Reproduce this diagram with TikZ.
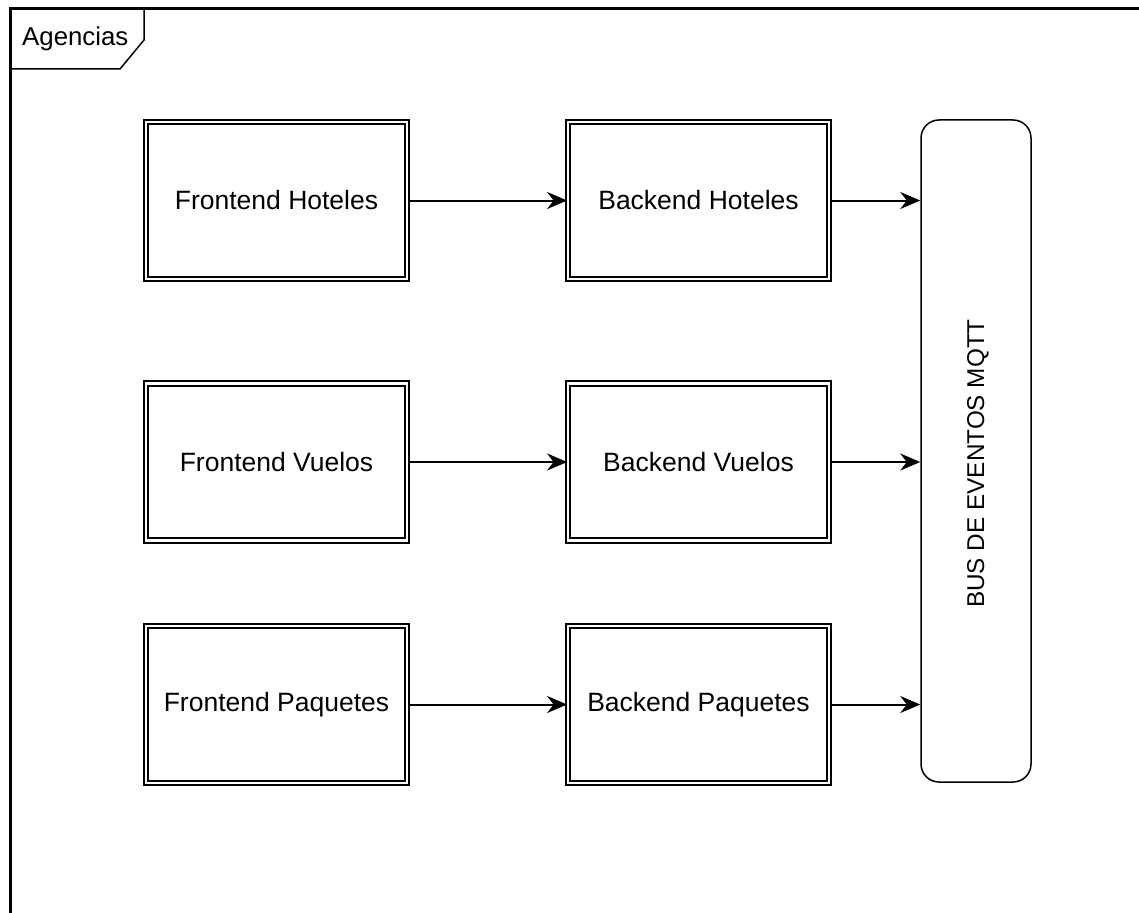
\documentclass[tikz,border=0pt]{standalone}
\usepackage{fontspec}
\setmainfont{Liberation Sans}
\usetikzlibrary{arrows.meta,positioning}

\tikzset{
  comp/.style={draw, double, double distance=2.5pt, line width=1.8pt,
    minimum width=261pt, minimum height=157pt,
    font=\fontsize{26.5}{30}\selectfont},
  busbox/.style={draw, rounded corners=18pt, line width=1.5pt,
    minimum width=110pt, minimum height=662pt},
  flow/.style={-{Stealth[length=20pt,width=17pt]}, line width=2pt}
}

\begin{document}
\begin{tikzpicture}[x=1pt,y=-1pt]
  \useasboundingbox (0,0) rectangle (1139,912);
  % marco
  \draw[line width=3pt](10,940)--(10,9)--(1160,9);
  \draw[line width=1.5pt](10,69)--(120,69)--(144,40)--(144,9);
  \node[anchor=base west, inner sep=0pt, font=\fontsize{25.8}{30}\selectfont] (tab) at (22,46) {Agencias};

  \node[comp] (fh) at (276.5,200.5) {Frontend Hoteles};
  \node[comp] (fv) at (276.5,462) {Frontend Vuelos};
  \node[comp] (fp) at (276.5,704.5) {Frontend Paquetes};
  \node[comp] (bh) at (698.5,200.5) {Backend Hoteles};
  \node[comp] (bv) at (698.5,462) {Backend Vuelos};
  \node[comp] (bp) at (698.5,704.5) {Backend Paquetes};

  \node[busbox] (bus) at (976,451) {};
  \node[rotate=90, font=\fontsize{24.3}{30}\selectfont] (bustxt) at (978,463.5) {BUS DE EVENTOS MQTT};

  \draw[flow](fh)--(bh);
  \draw[flow](fv)--(bv);
  \draw[flow](fp)--(bp);
  \draw[flow](bh)--(bh -| bus.west);
  \draw[flow](bv)--(bv -| bus.west);
  \draw[flow](bp)--(bp -| bus.west);
\end{tikzpicture}
\end{document}
